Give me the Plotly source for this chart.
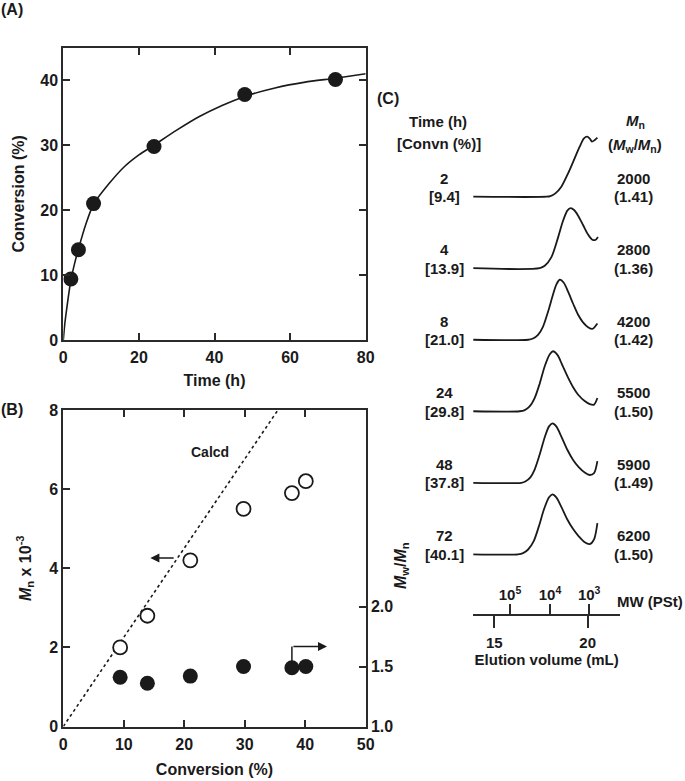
import plotly.graph_objects as go

# ---------------- data ----------------
# Panel A: conversion vs time
time_h = [2, 4, 8, 24, 48, 72]
conversion = [9.4, 13.9, 21.0, 29.8, 37.8, 40.1]
curve_time = [0, 0.4, 0.9, 2, 3, 4, 6, 8, 12, 16, 20, 24, 30, 36, 42, 48, 56, 64, 72, 80]
curve_conv = [0, 2.5, 4.8, 9.2, 11.8, 14.0, 17.9, 20.9, 24.0, 26.6, 28.5, 30.0, 32.3, 34.4, 36.1, 37.5, 38.8, 39.7, 40.3, 41.0]

# Panel B: Mn and Mw/Mn vs conversion
mn_k = [2.0, 2.8, 4.2, 5.5, 5.9, 6.2]
mwmn = [1.41, 1.36, 1.42, 1.50, 1.49, 1.50]
calcd_conv = [0, 50]
calcd_mn = [0, 11.27]

# Panel C: SEC traces (elution volume mL, relative intensity)
gpc_2h_vol = [13.86, 17.8, 18.0, 18.27, 18.59, 18.95, 19.30, 19.57, 19.80, 19.98, 20.13, 20.23, 20.38, 20.52]
gpc_2h_int = [0, 0, 0.01, 0.056, 0.167, 0.389, 0.639, 0.833, 0.972, 1.0, 0.961, 0.917, 0.944, 0.983]
gpc_4h_vol = [13.86, 17.43, 17.70, 18.05, 18.41, 18.68, 18.91, 19.09, 19.27, 19.48, 19.75, 20.02, 20.23, 20.41, 20.55]
gpc_4h_int = [0, 0, 0.04, 0.18, 0.51, 0.79, 0.96, 1.0, 0.97, 0.88, 0.72, 0.56, 0.48, 0.47, 0.52]
gpc_8h_vol = [13.86, 16.81, 17.07, 17.34, 17.61, 17.88, 18.14, 18.32, 18.50, 18.72, 18.95, 19.22, 19.48, 19.75, 20.02, 20.25, 20.52]
gpc_8h_int = [0, 0, 0.02, 0.08, 0.22, 0.47, 0.75, 0.92, 1.0, 0.95, 0.80, 0.60, 0.42, 0.29, 0.21, 0.18, 0.27]
gpc_24h_vol = [13.86, 16.36, 16.63, 16.89, 17.16, 17.43, 17.70, 17.97, 18.14, 18.38, 18.64, 18.95, 19.22, 19.48, 19.84, 20.11, 20.34, 20.52]
gpc_24h_int = [0, 0, 0.02, 0.08, 0.22, 0.46, 0.75, 0.95, 1.0, 0.94, 0.77, 0.56, 0.40, 0.28, 0.17, 0.12, 0.11, 0.22]
gpc_48h_vol = [13.86, 16.45, 16.66, 16.93, 17.16, 17.43, 17.70, 17.93, 18.11, 18.32, 18.59, 18.91, 19.22, 19.52, 19.84, 20.11, 20.34, 20.52]
gpc_48h_int = [0, 0, 0.02, 0.09, 0.22, 0.47, 0.76, 0.94, 0.99, 0.94, 0.77, 0.55, 0.38, 0.26, 0.17, 0.13, 0.16, 0.36]
gpc_72h_vol = [13.86, 16.27, 16.54, 16.81, 17.11, 17.39, 17.66, 17.93, 18.11, 18.32, 18.59, 18.91, 19.22, 19.52, 19.84, 20.11, 20.34, 20.52]
gpc_72h_int = [0, 0, 0.02, 0.08, 0.22, 0.47, 0.75, 0.95, 1.0, 0.95, 0.79, 0.58, 0.42, 0.30, 0.20, 0.17, 0.25, 0.52]

time_labels = ["2", "4", "8", "24", "48", "72"]
convn_labels = ["[9.4]", "[13.9]", "[21.0]", "[29.8]", "[37.8]", "[40.1]"]
mn_labels = ["2000", "2800", "4200", "5500", "5900", "6200"]
pdi_labels = ["(1.41)", "(1.36)", "(1.42)", "(1.50)", "(1.49)", "(1.50)"]

elution_ticks = [15, 20]
mw_tick_pos = [15.84, 17.98, 20.08]
mw_tick_text = ["10<sup>5</sup>", "10<sup>4</sup>", "10<sup>3</sup>"]

# ---------------- layout helpers ----------------
W, H = 685, 781
def px_x(p):
    return p / W
def px_y(p):
    return 1 - p / H

FONT = "Liberation Sans, Arial, sans-serif"
TXT = "#1a1a1a"
AX = "#2a2a2a"

fig = go.Figure()

# Panel A
fig.add_trace(go.Scatter(x=curve_time, y=curve_conv, mode="lines", line=dict(color=TXT, width=1.6, shape="spline", smoothing=0.6),
                         xaxis="x", yaxis="y", showlegend=False, hoverinfo="skip"))
fig.add_trace(go.Scatter(x=time_h, y=conversion, mode="markers", marker=dict(size=15, color=TXT),
                         xaxis="x", yaxis="y", showlegend=False))

# Panel B
fig.add_trace(go.Scatter(x=calcd_conv, y=calcd_mn, mode="lines", line=dict(color=TXT, width=1.6, dash="dot"),
                         xaxis="x2", yaxis="y2", showlegend=False, hoverinfo="skip"))
fig.add_trace(go.Scatter(x=conversion, y=mn_k, mode="markers",
                         marker=dict(size=14, color="white", line=dict(color=TXT, width=1.8)),
                         xaxis="x2", yaxis="y2", showlegend=False))
fig.add_trace(go.Scatter(x=conversion, y=mwmn, mode="markers", marker=dict(size=15, color=TXT),
                         xaxis="x2", yaxis="y3", showlegend=False))

# Panel C
gpc_vols = [gpc_2h_vol, gpc_4h_vol, gpc_8h_vol, gpc_24h_vol, gpc_48h_vol, gpc_72h_vol]
gpc_ints = [gpc_2h_int, gpc_4h_int, gpc_8h_int, gpc_24h_int, gpc_48h_int, gpc_72h_int]
n = len(gpc_vols)
step = 1.192
offsets = [0.995 + (n - 1 - k) * step for k in range(n)]
for k in range(n):
    fig.add_trace(go.Scatter(x=gpc_vols[k], y=[v + offsets[k] for v in gpc_ints[k]], mode="lines",
                             line=dict(color=TXT, width=1.8, shape="spline", smoothing=0.8),
                             xaxis="x3", yaxis="y4", showlegend=False, hoverinfo="skip"))
# invisible trace so that the MW (PSt) axis is drawn
fig.add_trace(go.Scatter(x=mw_tick_pos, y=[0, 0, 0], mode="markers", marker=dict(opacity=0),
                         xaxis="x4", yaxis="y4", showlegend=False, hoverinfo="skip"))

tickfont = dict(family=FONT, size=16, color=TXT, weight="bold")
titlefont = dict(family=FONT, size=16, color=TXT, weight="bold")

common = dict(showgrid=False, zeroline=False, showline=True, linecolor=AX, linewidth=2, automargin=False,
              ticks="inside", ticklen=7, tickwidth=2, tickcolor=AX, tickfont=tickfont)

xA = [63.3, 365.7]
fig.update_layout(
    width=W, height=H, margin=dict(l=0, r=0, t=0, b=0, autoexpand=False),
    paper_bgcolor="white", plot_bgcolor="white",
    xaxis=dict(domain=[px_x(xA[0]), px_x(xA[1])], anchor="y", range=[0, 80], tickvals=[0, 20, 40, 60, 80],
               mirror="ticks", ticklabelstandoff=2,
               title=dict(text="Time (h)", font=titlefont, standoff=10), **common),
    yaxis=dict(domain=[px_y(340), px_y(47.7)], anchor="x", range=[0, 45], tickvals=[0, 10, 20, 30, 40],
               mirror="ticks", ticklabelstandoff=0,
               title=dict(text="Conversion (%)", font=titlefont, standoff=12), **common),
    xaxis2=dict(domain=[px_x(xA[0]), px_x(xA[1])], anchor="y2", range=[0, 50], tickvals=[0, 10, 20, 30, 40, 50],
                mirror="ticks", ticklabelstandoff=2,
                title=dict(text="Conversion (%)", font=titlefont, standoff=12), **common),
    yaxis2=dict(domain=[px_y(726.5), px_y(410)], anchor="x2", range=[0, 8], tickvals=[0, 2, 4, 6, 8],
                ticklabelstandoff=0,
                title=dict(text="<i>M</i><sub>n</sub> x 10<sup>-3</sup>", font=titlefont, standoff=14), **common),
    yaxis3=dict(overlaying="y2", side="right", anchor="x2", range=[1, 1 + 316.5 / 120], tickvals=[1.0, 1.5, 2.0],
                tickformat=".1f", ticklabelstandoff=0, **common),
    xaxis3=dict(domain=[px_x(473.3), px_x(620)], anchor="y4", range=[13.875, 21.73], tickvals=elution_ticks,
                showgrid=False, zeroline=False, showline=True, linecolor=AX, linewidth=2, automargin=False,
                ticks="outside", ticklen=12, tickwidth=2, tickcolor=AX,
                tickfont=dict(family=FONT, size=15, color=TXT, weight="bold"), ticklabelstandoff=2,
                title=dict(text="Elution volume (mL)", font=dict(family=FONT, size=15, color=TXT, weight="bold"), standoff=2)),
    xaxis4=dict(overlaying="x3", anchor="free", position=px_y(614), side="top", range=[13.875, 21.73],
                tickvals=mw_tick_pos, ticktext=mw_tick_text, showgrid=False, zeroline=False, showline=False,
                automargin=False, ticks="outside", ticklen=10, tickwidth=2, tickcolor=AX,
                tickfont=dict(family=FONT, size=15, color=TXT, weight="bold"), ticklabelstandoff=-2),
    yaxis4=dict(domain=[px_y(614), px_y(120)], anchor="x3", range=[0, 494 / 60], visible=False),
)

ann = []
def txt(x, y, s, size=15, xref="paper", yref="paper", **kw):
    d = dict(x=x, y=y, xref=xref, yref=yref, text=s, showarrow=False, xanchor="center", yanchor="middle",
             font=dict(family=FONT, size=size, color=TXT, weight="bold"))
    d.update(kw)
    ann.append(d)

# panel letters
txt(px_x(12), px_y(9), "(A)", size=16)
txt(px_x(12), px_y(410), "(B)", size=16)
txt(px_x(388), px_y(98), "(C)", size=16)

# panel B annotations
txt(24.3, 6.95, "Calcd", size=14, xref="x2", yref="y2")
txt(px_x(401), px_y(566), "<i>M</i><sub>w</sub>/<i>M</i><sub>n</sub>", size=16, textangle=-90)
ann.append(dict(x=14.4, y=4.26, ax=18.5, ay=4.26, xref="x2", yref="y2", axref="x2", ayref="y2", text="",
                showarrow=True, arrowhead=2, arrowsize=1.2, arrowwidth=1.5, arrowcolor=TXT))
ann.append(dict(x=37.8, y=2.02, ax=37.8, ay=1.5, xref="x2", yref="y2", axref="x2", ayref="y2", text="",
                showarrow=True, arrowhead=0, arrowwidth=1.5, arrowcolor=TXT))
ann.append(dict(x=43.6, y=2.02, ax=37.8, ay=2.02, xref="x2", yref="y2", axref="x2", ayref="y2", text="",
                showarrow=True, arrowhead=2, arrowsize=1.2, arrowwidth=1.5, arrowcolor=TXT))

# panel C headers
txt(px_x(438), px_y(121.7), "Time (h)")
txt(px_x(439), px_y(143.3), "[Convn (%)]")
txt(px_x(635), px_y(121.7), "<i>M</i><sub>n</sub>")
txt(px_x(635), px_y(145), "(<i>M</i><sub>w</sub>/<i>M</i><sub>n</sub>)")
txt(px_x(650), px_y(601.5), "MW (PSt)")

line_gap = 18.4 / 60
for k in range(n):
    txt(px_x(444), offsets[k] + line_gap, time_labels[k], yref="y4")
    txt(px_x(444), offsets[k], convn_labels[k], yref="y4")
    txt(px_x(633.5), offsets[k] + line_gap, mn_labels[k], yref="y4")
    txt(px_x(633.5), offsets[k], pdi_labels[k], yref="y4")

fig.update_layout(annotations=ann)
fig.write_html("out.html", config={"displayModeBar": False},
               post_script="document.body.style.margin='0';document.body.style.padding='0';document.body.style.overflow='hidden';")
